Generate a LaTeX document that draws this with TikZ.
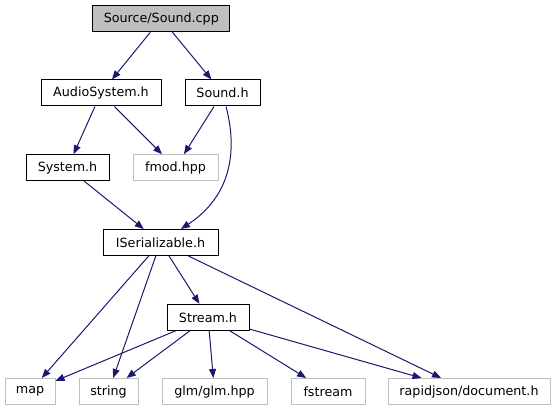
\documentclass[tikz,border=0pt]{standalone}
\usepackage{fontspec}
\setmainfont{DejaVu Sans}
\usetikzlibrary{arrows.meta}
\definecolor{edgeblue}{HTML}{191970}
\definecolor{extgray}{HTML}{BFBFBF}

\begin{document}
\begin{tikzpicture}[x=1pt,y=-1pt,>={Triangle[length=9pt,width=7pt]},
  every node/.style={font=\fontsize{12.7}{15}\selectfont,minimum height=26pt,inner sep=0pt,line width=1pt},
  hdr/.style={draw=black},
  ext/.style={draw=extgray},
  edge/.style={->,edgeblue,line width=1pt}]
\useasboundingbox (0,0) rectangle (557,411);

% Top file
\node[hdr,fill=extgray,minimum width=137pt] (src) at (161.3,18.7) {Source/Sound.cpp};

% Headers
\node[hdr,minimum width=120pt] (audio) at (101,93) {AudioSystem.h};
\node[hdr,minimum width=75pt] (soundh) at (222.5,93) {Sound.h};
\node[hdr,minimum width=83pt] (system) at (67.5,167.7) {System.h};
\node[ext,minimum width=85pt] (fmod) at (175.5,167.7) {fmod.hpp};
\node[hdr,minimum width=115pt] (iser) at (160.5,242.5) {ISerializable.h};
\node[hdr,minimum width=82pt] (stream) at (208,317.3) {Stream.h};

% External headers
\node[ext,minimum width=50pt] (map) at (30,391.5) {map};
\node[ext,minimum width=59pt] (string) at (108.5,391.5) {string};
\node[ext,minimum width=105pt] (glm) at (214.5,391.5) {glm/glm.hpp};
\node[ext,minimum width=74pt] (fstream) at (328,391.5) {fstream};
\node[ext,minimum width=162pt] (rapid) at (469,391.5) {rapidjson/document.h};

% Include edges
\draw[edge] (src) -- (audio);
\draw[edge] (src) -- (soundh);
\draw[edge] (audio) -- (system);
\draw[edge] (audio) -- (fmod);
\draw[edge] (soundh) -- (fmod);
\draw[edge] (soundh) .. controls (240,160) and (225,200) .. (iser);
\draw[edge] (system) -- (iser);
\draw[edge] (iser) -- (map);
\draw[edge] (iser) -- (string);
\draw[edge] (iser) -- (stream);
\draw[edge] (iser) -- (rapid);
\draw[edge] (stream) -- (map);
\draw[edge] (stream) -- (string);
\draw[edge] (stream) -- (glm);
\draw[edge] (stream) -- (fstream);
\draw[edge] (stream) -- (rapid);
\end{tikzpicture}
\end{document}
